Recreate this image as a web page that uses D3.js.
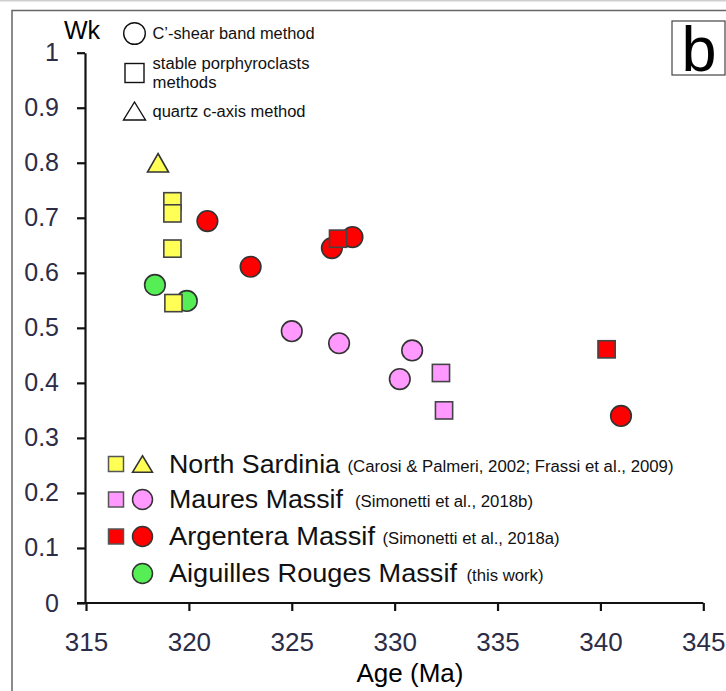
<!DOCTYPE html>
<html>
<head>
<meta charset="utf-8">
<script src="https://cdn.jsdelivr.net/npm/d3@7"></script>
<style>
  body { margin: 0; background: #fff; }
  svg { display: block; }
  .tick text { font-family: "Liberation Sans", Arial, sans-serif; fill: #2c2c46; }
</style>
</head>
<body>
<svg></svg>
<script>
// ---- data (age in Ma, Wk) ----
const ageTicks = [315, 320, 325, 330, 335, 340, 345]
const wkTicks = [0, 0.1, 0.2, 0.3, 0.4, 0.5, 0.6, 0.7, 0.8, 0.9, 1]

const northSardiniaSquares = [[319.2, 0.730], [319.2, 0.708], [319.2, 0.644], [319.25, 0.545]]
const northSardiniaTriangles = [[318.5, 0.800]]
const mauresCircles = [[325.0, 0.494], [327.3, 0.472], [330.85, 0.459], [330.25, 0.407]]
const mauresSquares = [[332.25, 0.418], [332.4, 0.350]]
const argenteraCircles = [[320.9, 0.694], [323.0, 0.611], [326.95, 0.645], [327.95, 0.665], [341.0, 0.340]]
const argenteraSquares = [[327.25, 0.662], [340.3, 0.461]]
const aiguillesCircles = [[318.35, 0.578], [319.9, 0.549]]

const legendRows = [
    {name: "North Sardinia", ref: "(Carosi & Palmeri, 2002; Frassi et al., 2009)", marks: ["square", "triangle"], color: "#ffff55"},
    {name: "Maures Massif", ref: "(Simonetti et al., 2018b)", marks: ["square", "circle"], color: "#ff99ff"},
    {name: "Argentera Massif", ref: "(Simonetti et al., 2018a)", marks: ["square", "circle"], color: "#ff0000"},
    {name: "Aiguilles Rouges Massif", ref: "(this work)", marks: [null, "circle"], color: "#55ee55"}
]
const methodRows = [
    {mark: "circle", lines: ["C’-shear band method"]},
    {mark: "square", lines: ["stable porphyroclasts", "methods"]},
    {mark: "triangle", lines: ["quartz c-axis method"]}
]

// ------------------- SVG ----------------------
const svgW = 726, svgH = 691
const svg = d3.select("svg").attr("width", svgW).attr("height", svgH)

// panel frame
svg.append("line").attr("x1", 0).attr("x2", svgW).attr("y1", 0.5).attr("y2", 0.5)
    .attr("stroke", "#cfcfcf").attr("stroke-width", 2)
svg.append("path").attr("d", `M12,${svgH + 5}V10.5H${svgW + 5}`)
    .attr("fill", "none").attr("stroke", "#666").attr("stroke-width", 1.5)

const xScale = d3.scaleLinear().domain([315, 345]).range([86, 703.3])
const yScale = d3.scaleLinear().domain([0, 1]).range([603, 52.7])

const xAxis = d3.axisBottom(xScale).tickValues(ageTicks).tickSize(8).tickSizeOuter(0).tickPadding(22)
const yAxis = d3.axisLeft(yScale).tickValues(wkTicks).tickSize(8).tickSizeOuter(0).tickPadding(18).tickFormat(d => String(d))

const gx = svg.append("g").attr("transform", `translate(0,${yScale(0)})`).call(xAxis)
gx.select(".domain").attr("d", `M${xScale(315) - 9},0H${xScale(345)}`)
gx.selectAll(".tick text").attr("font-size", 26)

const gy = svg.append("g").attr("transform", `translate(${xScale(315) - 1},0)`).call(yAxis)
gy.selectAll(".tick text").attr("font-size", 25)

svg.selectAll(".domain, .tick line").attr("stroke", "#111").attr("stroke-width", 2.2)

// axis titles
svg.append("text").attr("x", 64).attr("y", 39).text("Wk")
    .attr("font-family", "Liberation Sans, Arial, sans-serif").attr("font-size", 25)
svg.append("text").attr("x", 410).attr("y", 682).attr("text-anchor", "middle").text("Age (Ma)")
    .attr("font-family", "Liberation Sans, Arial, sans-serif").attr("font-size", 26)

// "b" box
svg.append("rect").attr("x", 672).attr("y", 21).attr("width", 53).attr("height", 54)
    .attr("fill", "#fff").attr("stroke", "#444").attr("stroke-width", 1.2)
svg.append("text").attr("x", 699).attr("y", 70.5).attr("text-anchor", "middle").text("b")
    .attr("font-family", "Liberation Sans, Arial, sans-serif").attr("font-size", 63)

// markers
const triPath = (w, h) => `M0,${-h / 2}L${w / 2},${h / 2}L${-w / 2},${h / 2}Z`

function drawCircles(data, color){
    svg.append("g").selectAll("circle").data(data).enter().append("circle")
        .attr("cx", d => xScale(d[0])).attr("cy", d => yScale(d[1])).attr("r", 10.3)
        .attr("fill", color).attr("stroke", "#333").attr("stroke-width", 1.6)
}
function drawSquares(data, color){
    svg.append("g").selectAll("rect").data(data).enter().append("rect")
        .attr("x", d => xScale(d[0]) - 8.6).attr("y", d => yScale(d[1]) - 8.6)
        .attr("width", 17.2).attr("height", 17.2)
        .attr("fill", color).attr("stroke", "#444").attr("stroke-width", 1.6)
}
function drawTriangles(data, color){
    svg.append("g").selectAll("path").data(data).enter().append("path")
        .attr("d", triPath(21, 18.5))
        .attr("transform", d => `translate(${xScale(d[0])},${yScale(d[1])})`)
        .attr("fill", color).attr("stroke", "#333").attr("stroke-width", 1.6)
}

drawCircles(aiguillesCircles, "#55ee55")
drawCircles(argenteraCircles, "#ff0000")
drawCircles(mauresCircles, "#ff99ff")
drawSquares(northSardiniaSquares, "#ffff55")
drawSquares(mauresSquares, "#ff99ff")
drawSquares(argenteraSquares, "#ff0000")
drawTriangles(northSardiniaTriangles, "#ffff55")

// ----- method legend (top) -----
const methodY = [33.5, 73, 111]
const methodW = [[162], [157, 64], [153]]
const methodG = svg.append("g")
methodRows.forEach((m, i) => {
    const cy = methodY[i]
    if (m.mark === "circle") {
        methodG.append("circle").attr("cx", 134.5).attr("cy", cy).attr("r", 10.8)
            .attr("fill", "none").attr("stroke", "#111").attr("stroke-width", 1.4)
    } else if (m.mark === "square") {
        methodG.append("rect").attr("x", 125).attr("y", cy - 9.5).attr("width", 19).attr("height", 19)
            .attr("fill", "none").attr("stroke", "#111").attr("stroke-width", 1.4)
    } else {
        methodG.append("path").attr("d", triPath(22, 18)).attr("transform", `translate(134.5,${cy})`)
            .attr("fill", "none").attr("stroke", "#111").attr("stroke-width", 1.4)
    }
    const lineH = 19
    const first = cy + 5.5 - (m.lines.length - 1) * lineH / 2
    m.lines.forEach((t, j) => {
        methodG.append("text").attr("x", 152.5).attr("y", first + j * lineH).text(t)
            .attr("font-family", "Liberation Sans, Arial, sans-serif").attr("font-size", 16).attr("fill", "#111")
            .attr("textLength", methodW[i][j]).attr("lengthAdjust", "spacingAndGlyphs")
    })
})

// ----- region legend (bottom) -----
const rowY = [464, 499.5, 536.5, 573.5]
const nameW = [171, 174, 206, 288]
const refX = [347.5, 355, 382.5, 466.5]
const refW = [326, 178, 177, 77]
const legG = svg.append("g")
legendRows.forEach((r, i) => {
    const cy = rowY[i]
    if (r.marks[0] === "square") {
        legG.append("rect").attr("x", 108.5).attr("y", cy - 7.5).attr("width", 15).attr("height", 15)
            .attr("fill", r.color).attr("stroke", "#555").attr("stroke-width", 1.5)
    }
    if (r.marks[1] === "triangle") {
        legG.append("path").attr("d", triPath(20, 16.5)).attr("transform", `translate(142.5,${cy})`)
            .attr("fill", r.color).attr("stroke", "#333").attr("stroke-width", 1.5)
    } else {
        legG.append("circle").attr("cx", 142.5).attr("cy", cy).attr("r", 10)
            .attr("fill", r.color).attr("stroke", "#333").attr("stroke-width", 1.5)
    }
    legG.append("text").attr("x", 169).attr("y", cy + 8.8).text(r.name)
        .attr("font-family", "Liberation Sans, Arial, sans-serif").attr("font-size", 25)
        .attr("textLength", nameW[i]).attr("lengthAdjust", "spacingAndGlyphs").attr("fill", "#111")
    legG.append("text").attr("x", refX[i]).attr("y", cy + 7.5).text(r.ref)
        .attr("font-family", "Liberation Sans, Arial, sans-serif").attr("font-size", 16)
        .attr("textLength", refW[i]).attr("lengthAdjust", "spacingAndGlyphs").attr("fill", "#111")
})
</script>
</body>
</html>
